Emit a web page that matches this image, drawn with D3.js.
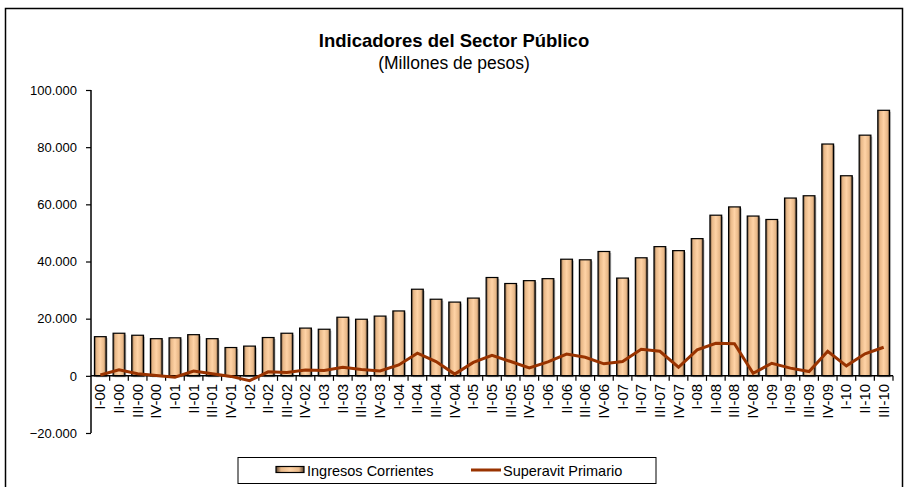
<!DOCTYPE html>
<html>
<head>
<meta charset="utf-8">
<script src="https://cdn.jsdelivr.net/npm/d3@7"></script>
<style>
  body { margin: 0; background: #fff; }
  text { font-family: "Liberation Sans", Arial, sans-serif; fill: #000; }
</style>
</head>
<body>
<div id="chart"></div>
<script>
// quarters I-00 .. III-10
var quarters = ["I-00","II-00","III-00","IV-00","I-01","II-01","III-01","IV-01",
  "I-02","II-02","III-02","IV-02","I-03","II-03","III-03","IV-03",
  "I-04","II-04","III-04","IV-04","I-05","II-05","III-05","IV-05",
  "I-06","II-06","III-06","IV-06","I-07","II-07","III-07","IV-07",
  "I-08","II-08","III-08","IV-08","I-09","II-09","III-09","IV-09",
  "I-10","II-10","III-10"];

var ingresos = [13700,14900,14200,13000,13300,14400,13000,9900,
  10400,13400,14900,16700,16300,20500,19800,20900,
  22700,30300,26800,25800,27200,34400,32300,33300,
  34000,40800,40600,43500,34200,41300,45200,43800,
  48000,56200,59100,55900,54700,62200,63000,81100,
  70000,84200,92900];

var superavit = [300,2100,700,100,-500,1700,700,-200,
  -1700,1400,1200,2000,1900,3000,2200,1700,
  3800,7900,5000,600,4700,7200,5000,2800,
  4900,7600,6500,4200,5000,9300,8600,3000,
  9100,11400,11200,900,4400,2700,1500,8600,
  3500,7700,10000];

var yTicks = [-20000,0,20000,40000,60000,80000,100000];

var svgWidth = 905, svgHeight = 487;

var svg = d3.select("#chart").append("svg")
  .attr("width", svgWidth)
  .attr("height", svgHeight);

// outer frame
svg.append("rect")
  .attr("x", 5.5).attr("y", 8.5)
  .attr("width", 897).attr("height", 490)
  .attr("fill", "none").attr("stroke", "#000").attr("stroke-width", 1.5);

var defs = svg.append("defs");
var grad = defs.append("linearGradient").attr("id", "barGrad")
  .attr("x1", "0%").attr("x2", "100%").attr("y1", "0%").attr("y2", "0%");
[["0%","#5a4330"],["18%","#e8b888"],["50%","#ffd3a6"],["82%","#e8b888"],["100%","#5a4330"]]
  .forEach(function(s) { grad.append("stop").attr("offset", s[0]).attr("stop-color", s[1]); });

var x = d3.scaleBand()
  .domain(quarters)
  .range([91, 893])
  .paddingInner(0.37)
  .paddingOuter(0.185);

var y = d3.scaleLinear()
  .domain([-20000, 100000])
  .range([433, 90]);

var g = svg.append("g");

// bar shadows
g.selectAll("rect.shadow")
  .data(ingresos)
  .enter().append("rect")
  .attr("class", "shadow")
  .attr("x", (d, i) => x(quarters[i]) + 1.5)
  .attr("y", d => y(d) + 1.5)
  .attr("width", x.bandwidth())
  .attr("height", d => y(0) - y(d))
  .attr("fill", "#c8c8c8");

// bars
g.selectAll("rect.bar")
  .data(ingresos)
  .enter().append("rect")
  .attr("class", "bar")
  .attr("x", (d, i) => x(quarters[i]))
  .attr("y", d => y(d))
  .attr("width", x.bandwidth())
  .attr("height", d => y(0) - y(d))
  .attr("fill", "url(#barGrad)")
  .attr("stroke", "#000")
  .attr("stroke-width", 1.2);

// y axis
var leftAxis = d3.axisLeft(y)
  .tickValues(yTicks)
  .tickSize(5)
  .tickPadding(9)
  .tickFormat(d => d3.format(",")(d).replace(/,/g, "."));

var yAxisG = svg.append("g")
  .attr("transform", "translate(91,0)")
  .call(leftAxis);
yAxisG.select(".domain").attr("stroke", "#000").attr("stroke-width", 1.5).attr("d", "M0,90V433");
yAxisG.selectAll(".tick line").attr("stroke", "#000").attr("stroke-width", 1.2);
yAxisG.selectAll(".tick text")
  .style("font-family", "Liberation Sans, Arial, sans-serif")
  .style("font-size", "13px");

// x axis at zero
var xAxisG = svg.append("g").attr("transform", "translate(0," + y(0) + ")");
xAxisG.append("line")
  .attr("x1", 91).attr("x2", 893)
  .attr("stroke", "#000").attr("stroke-width", 1.5);
xAxisG.selectAll("line.tk")
  .data(quarters)
  .enter().append("line")
  .attr("class", "tk")
  .attr("x1", d => x(d) + x.bandwidth() + x.step() * x.paddingInner() / 2)
  .attr("x2", d => x(d) + x.bandwidth() + x.step() * x.paddingInner() / 2)
  .attr("y1", 0).attr("y2", 5)
  .attr("stroke", "#000").attr("stroke-width", 1.2);
xAxisG.selectAll("text")
  .data(quarters)
  .enter().append("text")
  .attr("transform", d => "translate(" + (x(d) + x.bandwidth() / 2 + 5) + ",8) rotate(-90)")
  .attr("text-anchor", "end")
  .style("font-size", "15px")
  .text(d => d);

// line
var line = d3.line()
  .x((d, i) => x(quarters[i]) + x.bandwidth() / 2)
  .y(d => y(d));

svg.append("path")
  .datum(superavit)
  .attr("d", line)
  .attr("fill", "none")
  .attr("stroke", "#993300")
  .attr("stroke-width", 3)
  .attr("stroke-linejoin", "miter");

// title
svg.append("text")
  .attr("x", 454).attr("y", 47)
  .attr("text-anchor", "middle")
  .style("font-size", "18.5px").style("font-weight", "bold")
  .text("Indicadores del Sector Público");
svg.append("text")
  .attr("x", 454).attr("y", 69)
  .attr("text-anchor", "middle")
  .style("font-size", "17.5px")
  .text("(Millones de pesos)");

// legend
var lg = svg.append("g");
lg.append("rect")
  .attr("x", 238).attr("y", 457.5)
  .attr("width", 418).attr("height", 26)
  .attr("fill", "#fff").attr("stroke", "#000").attr("stroke-width", 1);
lg.append("rect")
  .attr("x", 276).attr("y", 466.5)
  .attr("width", 28).attr("height", 6)
  .attr("fill", "url(#barGrad)").attr("stroke", "#000").attr("stroke-width", 1.2);
lg.append("text")
  .attr("x", 307).attr("y", 475.5)
  .style("font-size", "14.5px")
  .text("Ingresos Corrientes");
lg.append("line")
  .attr("x1", 471).attr("x2", 501)
  .attr("y1", 470).attr("y2", 470)
  .attr("stroke", "#993300").attr("stroke-width", 3);
lg.append("text")
  .attr("x", 503).attr("y", 475.5)
  .style("font-size", "14.5px")
  .text("Superavit Primario");
</script>
</body>
</html>
